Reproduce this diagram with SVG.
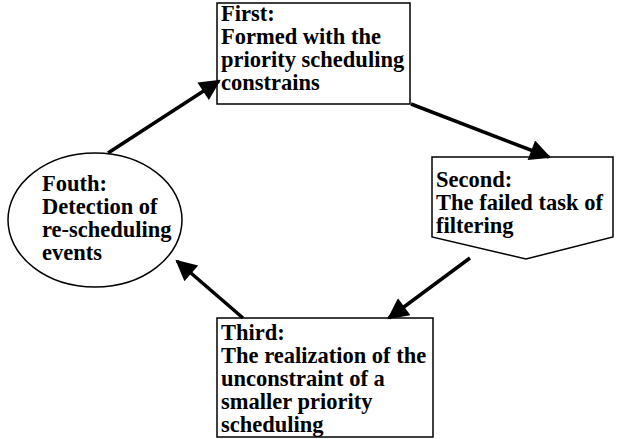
<svg xmlns="http://www.w3.org/2000/svg" width="617" height="439" viewBox="0 0 617 439">
<style>
.box{fill:#fff;stroke:#000;stroke-width:1.5}
.t{font-family:"Liberation Serif","Times New Roman",serif;font-weight:bold;font-size:22.5px;fill:#000}
.c{stroke:#000;stroke-width:3.5;fill:none}
</style>
<defs>
<marker id="ah" viewBox="0 0 10 10" refX="9" refY="5" markerWidth="7" markerHeight="6" orient="auto" markerUnits="strokeWidth">
<path d="M0,0 L10,5 L0,10 z" fill="#000"/>
</marker>
</defs>
<rect width="617" height="439" fill="#fff"/>
<g id="first">
<rect class="box" x="217" y="3" width="193" height="101"/>
<text class="t" x="221" y="21">First:</text>
<text class="t" x="221" y="44">Formed with the</text>
<text class="t" x="221" y="67">priority scheduling</text>
<text class="t" x="221" y="90">constrains</text>
</g>
<g id="second">
<path class="box" d="M432,157 L613,157 L613,237 L526,259 L432,237 Z"/>
<text class="t" x="436" y="187">Second:</text>
<text class="t" x="436" y="210">The failed task of</text>
<text class="t" x="436" y="233">filtering</text>
</g>
<g id="third">
<rect class="box" x="217" y="318" width="216" height="119"/>
<text class="t" x="221" y="340">Third:</text>
<text class="t" x="221" y="363">The realization of the</text>
<text class="t" x="221" y="386">unconstraint of a</text>
<text class="t" x="221" y="409">smaller priority</text>
<text class="t" x="221" y="432">scheduling</text>
</g>
<g id="fourth">
<ellipse class="box" cx="95" cy="220" rx="87" ry="67"/>
<text class="t" x="42" y="191">Fouth:</text>
<text class="t" x="42" y="214">Detection of</text>
<text class="t" x="42" y="237">re-scheduling</text>
<text class="t" x="42" y="260">events</text>
</g>
<g id="connectors">
<line class="c" x1="411" y1="104" x2="549" y2="157" marker-end="url(#ah)"/>
<line class="c" x1="470" y1="258" x2="389" y2="318" marker-end="url(#ah)"/>
<line class="c" x1="243" y1="318" x2="177" y2="261" marker-end="url(#ah)"/>
<line class="c" x1="108" y1="153" x2="219" y2="81" marker-end="url(#ah)"/>
</g>
</svg>
